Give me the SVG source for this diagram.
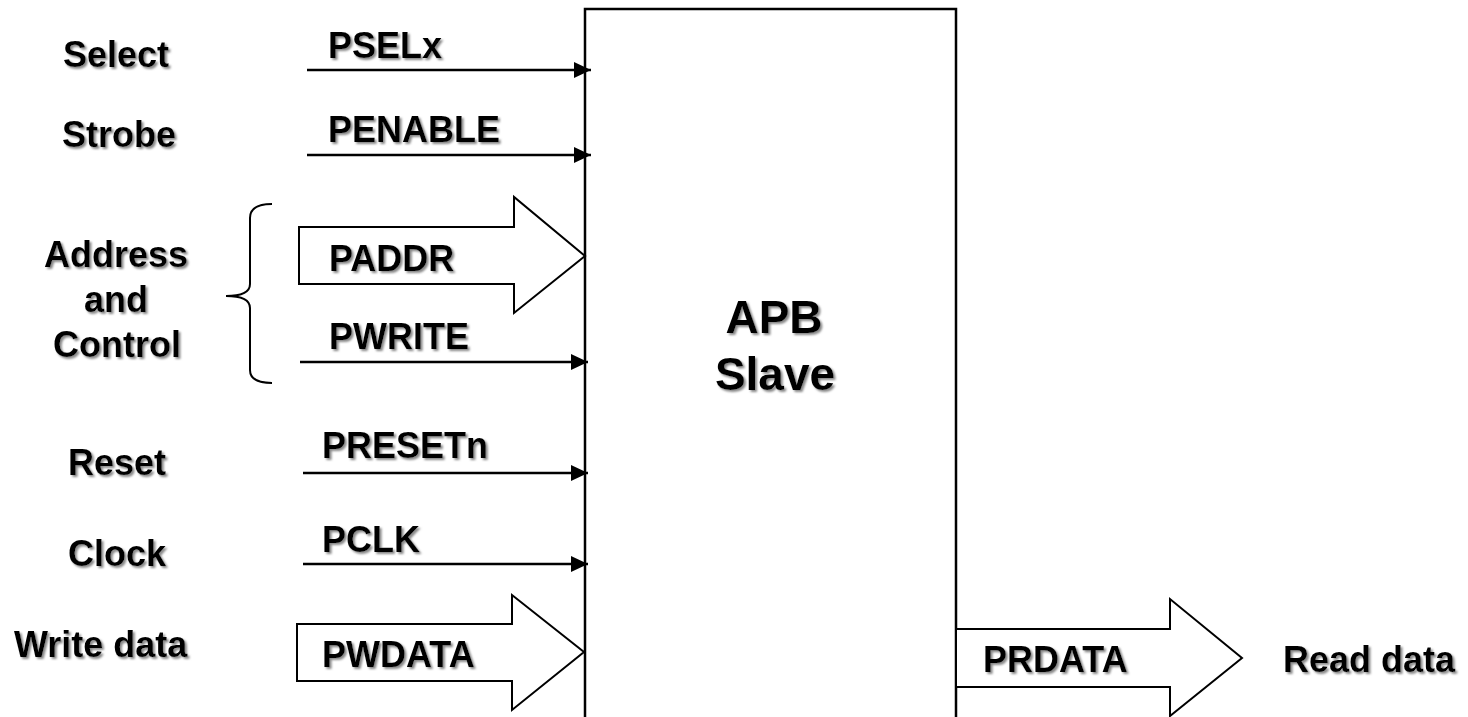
<svg xmlns="http://www.w3.org/2000/svg" width="1468" height="717" viewBox="0 0 1468 717">
  <defs>
    <style>
      text { font-family: "Liberation Sans", Arial, sans-serif; font-weight: bold; font-size: 36px; fill: #000; filter: url(#shadow); }
      .big { font-size: 46px; text-anchor: middle; }
      .mid { text-anchor: middle; }
      .wire { stroke: #000; stroke-width: 2.5; fill: none; marker-end: url(#arrow); }
      .bus { stroke: #000; stroke-width: 2; fill: #fff; stroke-linejoin: miter; }
      .box { stroke: #000; stroke-width: 2.5; fill: #fff; }
      .brace { stroke: #000; stroke-width: 2; fill: none; }
    </style>
    <filter id="shadow" x="-10%" y="-20%" width="130%" height="150%">
      <feOffset in="SourceAlpha" dx="2" dy="2" result="o"/>
      <feGaussianBlur in="o" stdDeviation="0.8" result="b"/>
      <feFlood flood-color="#888888"/>
      <feComposite in2="b" operator="in" result="s"/>
      <feMerge>
        <feMergeNode in="s"/>
        <feMergeNode in="SourceGraphic"/>
      </feMerge>
    </filter>
    <marker id="arrow" markerUnits="userSpaceOnUse" markerWidth="19" markerHeight="17" refX="17" refY="8" orient="auto">
      <path d="M0,0 L17,8 L0,16 Z" fill="#000"/>
    </marker>
  </defs>
  <rect width="1468" height="717" fill="#fff"/>

  <g id="apb-slave">
    <path class="box" d="M585,730 L585,9 L956,9 L956,730"/>
    <text class="big" x="774" y="333">APB</text>
    <text class="big" x="775" y="390">Slave</text>
  </g>

  <g id="connectors">
    <line class="wire" x1="307" y1="70" x2="591" y2="70"/>
    <line class="wire" x1="307" y1="155" x2="591" y2="155"/>
    <line class="wire" x1="300" y1="362" x2="588" y2="362"/>
    <line class="wire" x1="303" y1="473" x2="588" y2="473"/>
    <line class="wire" x1="303" y1="564" x2="588" y2="564"/>
    <path id="paddr-bus" class="bus" d="M299,227 L514,227 L514,197 L585,256 L514,313 L514,284 L299,284 Z"/>
    <path id="pwdata-bus" class="bus" d="M297,624 L512,624 L512,595 L584,652 L512,710 L512,681 L297,681 Z"/>
    <path id="prdata-bus" class="bus" d="M957,629 L1170,629 L1170,599 L1242,658 L1170,716 L1170,687 L957,687"/>
    <path class="brace" d="M272,204 Q250,204 250,218 L250,284 Q250,296 226,296 Q250,296 250,308 L250,370 Q250,383 272,383"/>
  </g>

  <g id="sig-pselx">
    <text x="63" y="67">Select</text>
    <text x="328" y="58">PSELx</text>
  </g>
  <g id="sig-penable">
    <text x="62" y="147">Strobe</text>
    <text x="328" y="142">PENABLE</text>
  </g>
  <g id="sig-addr-ctrl">
    <text class="mid" x="116" y="267">Address</text>
    <text class="mid" x="116" y="312">and</text>
    <text class="mid" x="117" y="357">Control</text>
    <text x="329" y="271">PADDR</text>
    <text x="329" y="349">PWRITE</text>
  </g>
  <g id="sig-presetn">
    <text x="68" y="475">Reset</text>
    <text x="322" y="458">PRESETn</text>
  </g>
  <g id="sig-pclk">
    <text x="68" y="566">Clock</text>
    <text x="322" y="552">PCLK</text>
  </g>
  <g id="sig-pwdata">
    <text x="14" y="657">Write data</text>
    <text x="322" y="667">PWDATA</text>
  </g>
  <g id="sig-prdata">
    <text x="983" y="672">PRDATA</text>
    <text x="1283" y="672">Read data</text>
  </g>
</svg>
